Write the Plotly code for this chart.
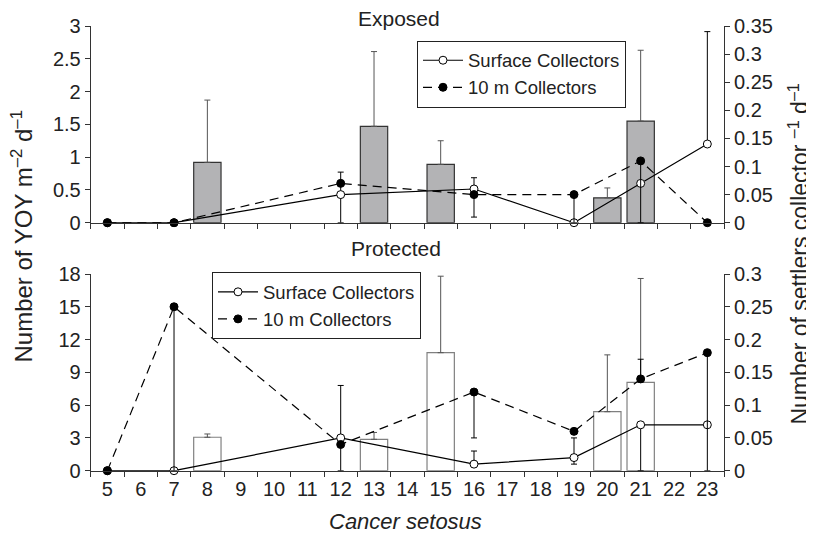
import plotly.graph_objects as go

# ---------------- data ----------------
categories = [str(v) for v in range(5, 24)]
bar_x = ["8", "13", "15", "20", "21"]
line_x = ["5", "7", "12", "16", "19", "21", "23"]

# Exposed (top)
top_bar = [0.92, 1.47, 0.89, 0.38, 1.55]
top_bar_err = [0.95, 1.14, 0.36, 0.15, 1.08]
top_surface = [0, 0, 0.05, 0.06, 0, 0.07, 0.14]
top_surface_err_plus = [None, None, 0.04, 0.02, None, None, 0.20]
top_surface_err_minus = [None, None, 0.05, 0.05, None, None, 0]
top_10m = [0, 0, 0.07, 0.05, 0.05, 0.11, 0]
top_10m_err_plus = [None, None, None, None, 0, 0, None]
top_10m_err_minus = [None, None, None, None, 0.05, 0.11, None]

# Protected (bottom)
bottom_bar = [3.06, 2.87, 10.8, 5.4, 8.09]
bottom_bar_err = [0.3, 0.63, 7.0, 5.2, 9.5]
bottom_surface = [0, 0, 0.05, 0.01, 0.02, 0.07, 0.07]
bottom_surface_err_plus = [None, None, 0.08, 0.02, 0.03, 0, None]
bottom_surface_err_minus = [None, None, 0.05, 0, 0.01, 0.07, None]
bottom_10m = [0, 0.25, 0.04, 0.12, 0.06, 0.14, 0.18]
bottom_10m_err_plus = [None, 0, None, 0, None, 0.03, 0]
bottom_10m_err_minus = [None, 0.25, None, 0.07, None, 0, 0.18]

series_names = ["Surface Collectors", "10 m Collectors"]

# ---------------- style ----------------
FONT = "Liberation Sans, Arial, Helvetica, sans-serif"
TXT = "#222222"
AX = "#333333"
OFF = 8                      # page body margin
W, H = 814 - OFF, 537 - OFF


def px(x):
    return (x - OFF) / W


def py(y):
    return 1 - (y - OFF) / H


xdom = [px(90.7), px(724)]
top_dom = [py(222.7), py(26)]
bot_dom = [py(470.7), py(274)]

fig = go.Figure()


def err(plus, minus, color="black"):
    return dict(type="data", symmetric=False, array=plus, arrayminus=minus,
                color=color, thickness=1, width=3)


def add_panel(xa, ya_left, ya_right, bars, bar_err, bar_fill, bar_line,
              surf, surf_p, surf_m, ten, ten_p, ten_m, legend):
    fig.add_trace(go.Bar(
        x=bar_x, y=bars, xaxis=xa, yaxis=ya_left, width=0.82,
        marker=dict(color=bar_fill, line=dict(color=bar_line, width=1.2)),
        error_y=dict(type="data", symmetric=False, array=bar_err,
                     arrayminus=[0] * len(bar_err), color="#555555",
                     thickness=1, width=3),
        showlegend=False, cliponaxis=False))
    fig.add_trace(go.Scatter(
        x=line_x, y=surf, xaxis=xa, yaxis=ya_right, mode="lines+markers",
        name=series_names[0], legend=legend,
        line=dict(color="black", width=1.2),
        marker=dict(symbol="circle", size=8, color="white",
                    line=dict(color="black", width=1)),
        error_y=err(surf_p, surf_m), cliponaxis=False))
    fig.add_trace(go.Scatter(
        x=line_x, y=ten, xaxis=xa, yaxis=ya_right, mode="lines+markers",
        name=series_names[1], legend=legend,
        line=dict(color="black", width=1.2, dash="9px,6px"),
        marker=dict(symbol="circle", size=8, color="black",
                    line=dict(color="black", width=1)),
        error_y=err(ten_p, ten_m), cliponaxis=False))


add_panel("x", "y", "y2", top_bar, top_bar_err, "#b3b3b5", "#333333",
          top_surface, top_surface_err_plus, top_surface_err_minus,
          top_10m, top_10m_err_plus, top_10m_err_minus, "legend")
add_panel("x2", "y3", "y4", bottom_bar, bottom_bar_err, "white", "#808080",
          bottom_surface, bottom_surface_err_plus, bottom_surface_err_minus,
          bottom_10m, bottom_10m_err_plus, bottom_10m_err_minus, "legend2")

tickfont = dict(family=FONT, size=20, color=TXT)
xcommon = dict(type="category", categoryorder="array", categoryarray=categories,
               range=[-0.5, 18.5], domain=xdom, showgrid=False, zeroline=False,
               showline=True, linecolor=AX, linewidth=1, ticks="outside",
               ticklen=5, tickcolor=AX, tickson="boundaries", tickfont=tickfont,
               automargin=False)
ycommon = dict(showgrid=False, zeroline=False, showline=True, linecolor=AX,
               linewidth=1, ticks="outside", ticklen=5, tickcolor=AX,
               tickfont=tickfont, automargin=False)

legend_common = dict(bgcolor="white", bordercolor=TXT, borderwidth=1,
                     font=dict(family=FONT, size=18.5, color=TXT),
                     xanchor="left", yanchor="top", tracegroupgap=0,
                     itemwidth=40)

fig.update_layout(
    width=W, height=H, margin=dict(l=0, r=0, t=0, b=0, autoexpand=False),
    paper_bgcolor="white", plot_bgcolor="white", barmode="overlay",
    font=dict(family=FONT, color=TXT),
    xaxis=dict(**xcommon, anchor="y", showticklabels=False),
    xaxis2=dict(**xcommon, anchor="y3", showticklabels=True),
    yaxis=dict(**ycommon, domain=top_dom, range=[0, 3], dtick=0.5, anchor="x"),
    yaxis2=dict(**ycommon, overlaying="y", side="right", range=[0, 0.35],
                dtick=0.05, anchor="x"),
    yaxis3=dict(**ycommon, domain=bot_dom, range=[0, 18], dtick=3, anchor="x2"),
    yaxis4=dict(**ycommon, overlaying="y3", side="right", range=[0, 0.3],
                dtick=0.05, anchor="x2"),
    legend=dict(**legend_common, x=px(417), y=py(40.7)),
    legend2=dict(**legend_common, x=px(212), y=py(272.3)),
    annotations=[
        dict(text="Exposed", x=px(399), y=py(19), xref="paper", yref="paper",
             showarrow=False, xanchor="center", yanchor="middle",
             font=dict(family=FONT, size=21, color=TXT)),
        dict(text="Protected", x=px(396), y=py(248), xref="paper", yref="paper",
             showarrow=False, xanchor="center", yanchor="middle",
             font=dict(family=FONT, size=21, color=TXT)),
        dict(text="<i>Cancer setosus</i>", x=px(405), y=py(521),
             xref="paper", yref="paper", showarrow=False, xanchor="center",
             yanchor="middle", font=dict(family=FONT, size=22, color=TXT)),
        dict(text="Number of YOY m<sup>–2</sup> d<sup>–1</sup>", x=px(21),
             y=py(236.5), xref="paper", yref="paper", showarrow=False,
             textangle=-90, xanchor="center", yanchor="middle",
             font=dict(family=FONT, size=24, color=TXT)),
        dict(text="Number of settlers collector <sup>–1</sup> d<sup>–1</sup>",
             x=px(798.5), y=py(254), xref="paper", yref="paper",
             showarrow=False, textangle=-90, xanchor="center", yanchor="middle",
             font=dict(family=FONT, size=23, color=TXT)),
    ],
)

fig.write_html("out.html")
